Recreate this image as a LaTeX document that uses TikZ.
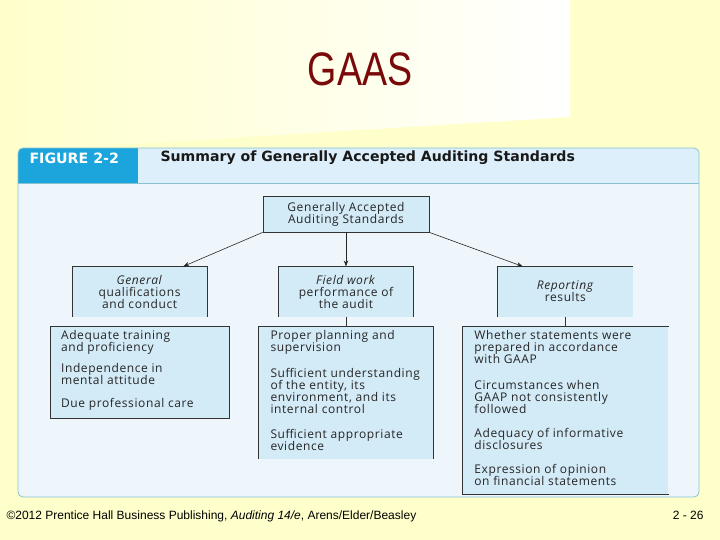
\documentclass[tikz,border=0pt]{standalone}
\usepackage{fontspec}
\setmainfont{Open Sans}[LetterSpace=5]
\newfontfamily\headfont{DejaVu Sans}
\newfontfamily\slidefont{Liberation Sans}
\usepackage{xcolor}
\usetikzlibrary{positioning, arrows.meta}

\definecolor{slideyellow}{HTML}{FFFFCC}
\definecolor{gaasred}{HTML}{7A0A0A}
\definecolor{panelblue}{HTML}{EEF6FC}
\definecolor{headblue}{HTML}{DCEFFA}
\definecolor{figcyan}{HTML}{1CA5DC}
\definecolor{boxblue}{HTML}{D3EAF7}
\definecolor{rimteal}{HTML}{86C3CF}

\newcommand{\bodyfont}{\fontsize{12}{12}\selectfont\lineskiplimit=-20pt\relax}

\begin{document}
\begin{tikzpicture}[
  x=1pt, y=-1pt,
  node distance=34pt and 71pt,
  every node/.style={font=\bodyfont, text=black!85},
  topbox/.style={rectangle, draw=black!80, line width=0.8pt, fill=boxblue,
                 minimum width=166pt, minimum height=36pt, align=center, inner sep=0pt},
  stdbox/.style={rectangle, fill=boxblue, minimum width=135pt,
                 minimum height=50pt, align=center, inner sep=0pt},
  lstbox/.style={rectangle, fill=boxblue, inner sep=0pt},
  lsttext/.style={anchor=north west, align=left, inner sep=0pt},
  edge/.style={draw=black!80, line width=0.8pt},
  arrow/.style={-{Stealth[length=6pt, width=4.5pt]}, line width=0.6pt, black!85},
]

  % slide background
  \fill[slideyellow] (0,0) rectangle (720,540);
  \shade[left color=slideyellow, middle color=white, right color=white]
    (0,0) -- (570,0) -- (570,117) -- (0,152) -- cycle;
  \node[font=\slidefont\fontsize{47}{50}\selectfont, text=gaasred] (title) at (360,69)
    {\scalebox{0.8}[1]{GAAS}};

  % figure panel
  \fill[panelblue, rounded corners=5pt] (18,148) rectangle (699,497);
  \begin{scope}
    \clip[rounded corners=5pt] (18,148) rectangle (699,497);
    \fill[headblue] (18,148) rectangle (699,183);
    \fill[figcyan] (18,148) rectangle (138,183);
  \end{scope}
  \draw[rimteal, line width=0.8pt] (18,183) -- (699,183);
  \draw[rimteal, line width=0.8pt, rounded corners=5pt] (18,148) rectangle (699,497);
  \node[anchor=west, font=\headfont\bfseries\fontsize{14.2}{15}\selectfont, text=white]
    (tag) at (26,158) {FIGURE 2-2};
  \node[anchor=west, font=\headfont\bfseries\fontsize{14.1}{15}\selectfont, text=black!90]
    (ttl) at (157,158) {Summary of Generally Accepted Auditing Standards};

  % standards
  \node[topbox] (gaas) at (346,214) {Generally Accepted\\Auditing Standards};
  \node[stdbox, below=of gaas] (fld) {\textit{Field work}\\performance of\\the audit};
  \node[stdbox, left=of fld] (gen) {\textit{General}\\qualifications\\and conduct};
  \node[stdbox, right=84pt of fld] (rep) {\textit{Reporting}\\results};

  \draw[edge] (gen.south west) |- (gen.north east) -- (gen.south east);
  \draw[edge] (fld.south west) |- (fld.north east) -- (fld.south east);
  \draw[edge] (rep.south west) |- (rep.north east);

  \draw[arrow] (gaas.south west) -- ([xshift=-24pt]gen.north east);
  \draw[arrow] (gaas) -- (fld);
  \draw[arrow] (gaas.south east) -- ([xshift=25pt]rep.north west);

  % lists
  \node[lstbox, below=10pt of gen, minimum width=179pt, minimum height=91pt] (genl) {};
  \node[lstbox, below=10pt of fld, minimum width=175pt, minimum height=132pt] (fldl) {};
  \node[lstbox, below=10pt of rep, minimum width=206pt, minimum height=167pt] (repl) {};

  \node[lsttext] (genx) at ([shift={(11pt,-3.5pt)}]genl.north west)
    {Adequate training\\and proficiency\\[9pt]
     Independence in\\mental attitude\\[11pt]
     Due professional care};
  \node[lsttext] (fldx) at ([shift={(12pt,-3.5pt)}]fldl.north west)
    {Proper planning and\\supervision\\[14pt]
     Sufficient understanding\\of the entity, its\\environment, and its\\internal control\\[13pt]
     Sufficient appropriate\\evidence};
  \node[lsttext] (repx) at ([shift={(12pt,-3.5pt)}]repl.north west)
    {Whether statements were\\prepared in accordance\\with GAAP\\[14pt]
     Circumstances when\\GAAP not consistently\\followed\\[12pt]
     Adequacy of informative\\disclosures\\[12pt]
     Expression of opinion\\on financial statements};

  \draw[edge] (genl.south west) rectangle (genl.north east);
  \draw[edge] (fldl.south west) |- (fldl.north east) -- (fldl.south east);
  \draw[edge] (repl.north east) -| (repl.south west) -- (repl.south east);

  \draw[edge, line width=0.6pt] (fld) -- (fldl);
  \draw[edge, line width=0.6pt] (rep) -- (repl);

  % footer
  \node[anchor=base west, font=\slidefont\fontsize{12}{13}\selectfont, text=black]
    (src) at (3,519) {\textcopyright2012 Prentice Hall Business Publishing, \textit{Auditing 14/e}, Arens/Elder/Beasley};
  \node[anchor=base east, font=\slidefont\fontsize{12}{13}\selectfont, text=black]
    (pg) at (707,519) {2 - 26};

  \useasboundingbox (0,0) rectangle (720,540);
\end{tikzpicture}
\end{document}
